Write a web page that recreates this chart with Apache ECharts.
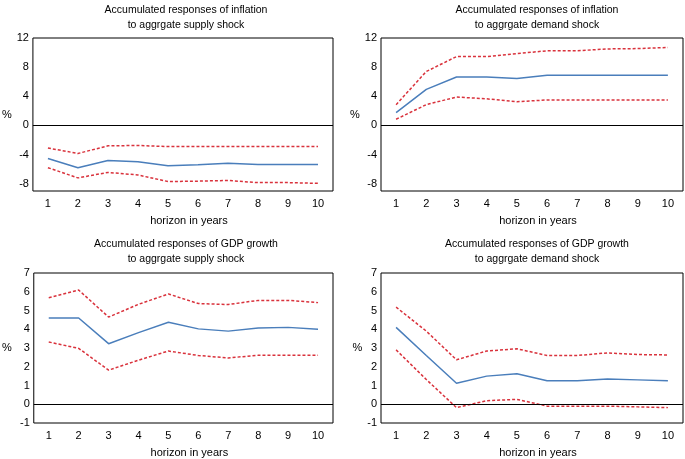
<!DOCTYPE html>
<html><head><meta charset="utf-8">
<script src="https://cdn.jsdelivr.net/npm/echarts@6/dist/echarts.min.js"></script>
<style>html,body{margin:0;padding:0;background:#fff}#c{width:685px;height:459px}</style>
</head><body><div id="c"></div>
<script>
const horizons = ['1','2','3','4','5','6','7','8','9','10'];
const titles = [
  'Accumulated responses of inflation\nto aggrgate supply shock',
  'Accumulated responses of inflation\nto aggrgate demand shock',
  'Accumulated responses of GDP growth\nto aggrgate supply shock',
  'Accumulated responses of GDP growth\nto aggrgate demand shock'
];
const xName = 'horizon in years';
const yName = '%';
// inflation to supply shock
const infSupMid = [-4.55,-5.8,-4.8,-5.0,-5.55,-5.4,-5.2,-5.35,-5.35,-5.35];
const infSupUp  = [-3.1,-3.85,-2.8,-2.75,-2.9,-2.9,-2.9,-2.9,-2.9,-2.9];
const infSupLo  = [-5.8,-7.2,-6.45,-6.8,-7.7,-7.65,-7.55,-7.85,-7.85,-7.95];
// inflation to demand shock
const infDemMid = [1.75,4.95,6.65,6.65,6.45,6.9,6.9,6.9,6.9,6.9];
const infDemUp  = [2.85,7.4,9.45,9.45,9.85,10.25,10.25,10.5,10.55,10.7];
const infDemLo  = [0.85,2.85,3.9,3.65,3.25,3.5,3.5,3.5,3.5,3.5];
// GDP to supply shock
const gdpSupMid = [4.6,4.6,3.23,3.82,4.37,4.02,3.9,4.07,4.1,4.0];
const gdpSupUp  = [5.68,6.09,4.65,5.33,5.88,5.37,5.32,5.54,5.54,5.42];
const gdpSupLo  = [3.32,2.98,1.82,2.35,2.84,2.6,2.47,2.61,2.61,2.61];
// GDP to demand shock
const gdpDemMid = [4.1,2.6,1.12,1.5,1.63,1.25,1.25,1.35,1.3,1.25];
const gdpDemUp  = [5.18,3.9,2.37,2.84,2.96,2.6,2.6,2.74,2.65,2.63];
const gdpDemLo  = [2.9,1.32,-0.18,0.19,0.26,-0.1,-0.1,-0.1,-0.14,-0.18];

const inflTicks = [-8,-4,0,4,8,12];
const gdpTicks = [-1,0,1,2,3,4,5,6,7];

const panels = [
  {mid:infSupMid, up:infSupUp, lo:infSupLo, min:-9, max:12, ticks:inflTicks},
  {mid:infDemMid, up:infDemUp, lo:infDemLo, min:-9, max:12, ticks:inflTicks},
  {mid:gdpSupMid, up:gdpSupUp, lo:gdpSupLo, min:-1, max:7, ticks:gdpTicks},
  {mid:gdpDemMid, up:gdpDemUp, lo:gdpDemLo, min:-1, max:7, ticks:gdpTicks}
];
const grids = [
  {left:29, top:38, width:304, height:153},
  {left:381, top:38, width:302, height:153},
  {left:29, top:273, width:304, height:155},
  {left:381, top:273, width:302, height:155}
];
const yNameGaps = [21, 14, 22, 14];
const titleTops = [-2, -2, 232, 232];
const FONT = 'Liberation Sans';
const BLUE = '#4a7ebb';
const RED = '#d9323c';
const TXT = '#000';

const option = {
  animation:false,
  textStyle:{fontFamily:FONT},
  title: grids.map((g,i)=>({
    text: titles[i], left: g.left + g.width/2, top: titleTops[i], textAlign:'center',
    textStyle:{fontFamily:FONT, fontSize:10.5, fontWeight:'normal', color:TXT, lineHeight:15}
  })),
  grid: grids.map(g=>Object.assign({show:true, borderColor:'#000', borderWidth:1, backgroundColor:'transparent'}, g)),
  xAxis: grids.map((g,i)=>({
    type:'category', gridIndex:i, data:horizons, boundaryGap:true,
    axisLine:{show:false, onZero:false}, axisTick:{show:false},
    axisLabel:{fontFamily:FONT, fontSize:11, color:TXT, margin:7},
    name:xName, nameLocation:'middle', nameGap:24,
    nameTextStyle:{fontFamily:FONT, fontSize:11, color:TXT, padding:[0,0,0,12]}
  })),
  yAxis: panels.map((p,i)=>({
    type:'value', gridIndex:i, min:p.min, max:p.max, interval:1,
    splitLine:{show:false}, axisTick:{show:false}, axisLine:{show:false},
    axisLabel:{fontFamily:FONT, fontSize:11, color:TXT, margin:4,
      formatter:v=> p.ticks.indexOf(v)>=0 ? String(v) : ''},
    name:yName, nameLocation:'middle', nameRotate:0, nameGap:yNameGaps[i],
    nameTextStyle:{fontFamily:FONT, fontSize:11, color:TXT}
  })),
  series: []
};
panels.forEach((p,i)=>{
  option.series.push({type:'line', xAxisIndex:i, yAxisIndex:i, data:p.up, symbol:'none',
    lineStyle:{color:RED, width:1.5, type:[3,2]}});
  option.series.push({type:'line', xAxisIndex:i, yAxisIndex:i, data:p.lo, symbol:'none',
    lineStyle:{color:RED, width:1.5, type:[3,2]}});
  option.series.push({type:'line', xAxisIndex:i, yAxisIndex:i, data:p.mid, symbol:'none',
    lineStyle:{color:BLUE, width:1.5},
    markLine:{silent:true, symbol:'none', label:{show:false},
      lineStyle:{color:'#000', width:1, type:'solid'}, data:[{yAxis:0}]}});
});
echarts.init(document.getElementById('c')).setOption(option);
</script></body></html>
